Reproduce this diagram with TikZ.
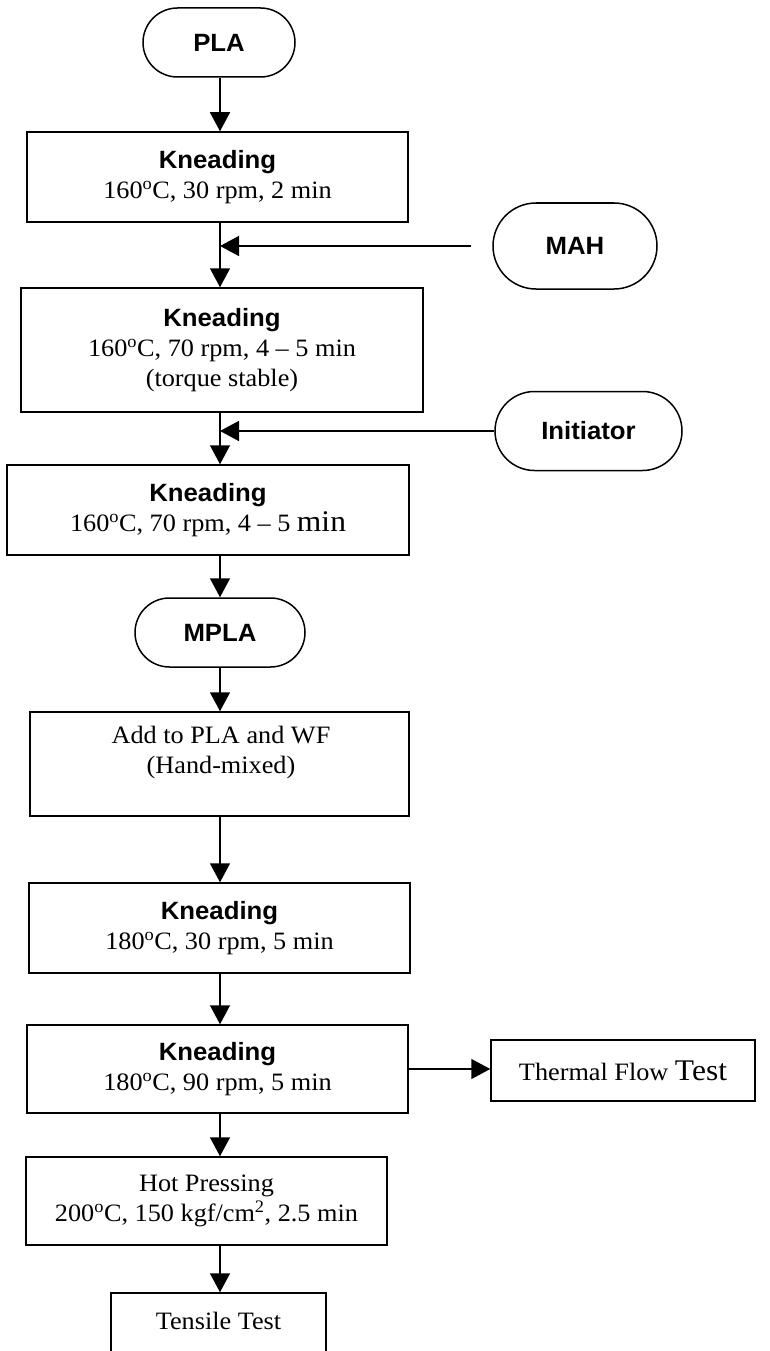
\documentclass[tikz,border=0pt]{standalone}
\usepackage{fontspec}
\setmainfont{Liberation Serif}[FakeStretch=1.05]
\newfontfamily\headfont{Liberation Sans}[FakeStretch=1.03]
\usetikzlibrary{arrows.meta,shapes.misc}

\newcommand{\degc}{\textsuperscript{o}C}
\newcommand{\head}[1]{{\headfont\bfseries #1}}
\newcommand{\largeword}[1]{{\fontsize{30}{30}\selectfont #1}}

\begin{document}
\begin{tikzpicture}[x=1pt,y=-1pt,
	box/.style={draw,line width=1.5pt,rectangle,align=center,inner sep=0pt},
	pill/.style={draw,line width=1.5pt,rounded rectangle,inner sep=0pt,
		font=\fontsize{25}{30}\selectfont\headfont\bfseries},
	arr/.style={line width=1.5pt,-{Triangle[length=19pt,width=20pt]}},
	font=\fontsize{25}{30}\selectfont]
		\useasboundingbox (0,0) rectangle (770,1351);
		\clip (0,0) rectangle (770,1351);
		\coordinate (col) at (220,0);
		
		\node[pill,minimum width=152,minimum height=69](pla)at(219,42.5) {PLA};
		\node[box,minimum width=381,minimum height=90](k1)at(217.5,177) {\head{Kneading}\\160\degc, 30 rpm, 2 min};
		\node[pill,minimum width=164,minimum height=86](mah)at(575,246) {MAH};
		\node[box,minimum width=402,minimum height=124](k2)at(222,350) {\head{Kneading}\\160\degc, 70 rpm, 4 \textendash\ 5 min\\(torque stable)};
		\node[pill,minimum width=187,minimum height=79](init)at(588.5,431) {Initiator};
		\node[box,minimum width=402,minimum height=90](k3)at(208,510) {\head{Kneading}\\160\degc, 70 rpm, 4 \textendash\ 5 \largeword{min}};
		\node[pill,minimum width=170,minimum height=69](mpla)at(220,632.5) {MPLA};
		\node[box,minimum width=379,minimum height=104](mix)at(219.5,764) {};
		\node[align=center](mixtxt)at(221,752) {Add to PLA and WF\\(Hand-mixed)};
		\node[box,minimum width=381,minimum height=90](k4)at(219.5,928) {\head{Kneading}\\180\degc, 30 rpm, 5 min};
		\node[box,minimum width=381,minimum height=88](k5)at(217.5,1069) {\head{Kneading}\\180\degc, 90 rpm, 5 min};
		\node[box,minimum width=264,minimum height=61](flow)at(623,1070.5) {Thermal Flow \largeword{Test}};
		\node[box,minimum width=361,minimum height=88](press)at(206.5,1201) {Hot Pressing\\200\degc, 150 kgf/cm\textsuperscript{2}, 2.5 min};
		\node[box,minimum width=215,minimum height=120](tens)at(218.5,1353) {};
		\node(tenstxt)at(218.5,1321) {Tensile Test};
		
		\draw[arr](pla.south -| col) -- (k1.north -| col);
		\draw[arr](k1.south -| col) -- (k2.north -| col);
		\draw[arr,shorten <=21pt](mah.west) -- (mah.west -| col);
		\draw[arr](k2.south -| col) -- (k3.north -| col);
		\draw[arr](init.west) -- (init.west -| col);
		\draw[arr](k3.south -| col) -- (mpla.north -| col);
		\draw[arr](mpla.south -| col) -- (mix.north -| col);
		\draw[arr](mix.south -| col) -- (k4.north -| col);
		\draw[arr](k4.south -| col) -- (k5.north -| col);
		\draw[arr](k5.east) -- (k5.east -| flow.west);
		\draw[arr](k5.south -| col) -- (press.north -| col);
		\draw[arr](press.south -| col) -- (tens.north -| col);
	\end{tikzpicture}
\end{document}
